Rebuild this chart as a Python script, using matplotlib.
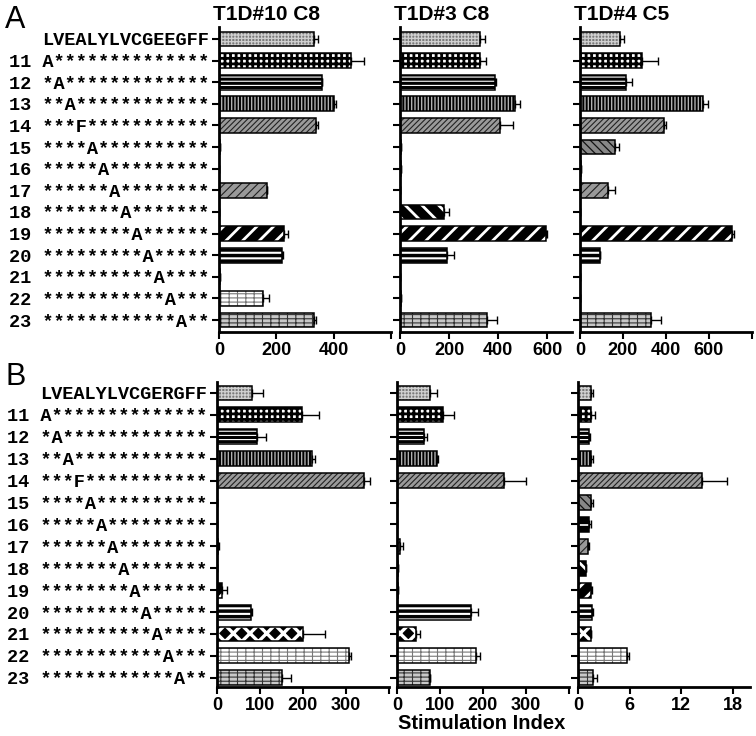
import numpy as np
import matplotlib
matplotlib.use('Agg')
import matplotlib.pyplot as plt

# row labels (sequence variants), same order top to bottom
labels_A = ['LVEALYLVCGEEGFF', '11 A**************', '12 *A*************',
            '13 **A************', '14 ***F***********', '15 ****A**********',
            '16 *****A*********', '17 ******A********', '18 *******A*******',
            '19 ********A******', '20 *********A*****', '21 **********A****',
            '22 ***********A***', '23 ************A**']
labels_B = ['LVEALYLVCGERGFF'] + labels_A[1:]

titles_A = ['T1D#10 C8', 'T1D#3 C8', 'T1D#4 C5']

# stimulation index, mean and error (upper side only)
a1_val = [333, 460, 358, 400, 337, 3, 0, 168, 0, 225, 221, 3, 155, 330]
a1_err = [11, 45, 0, 7, 10, 0, 0, 0, 0, 17, 3, 2, 21, 7]
a2_val = [327, 327, 385, 466, 408, 3, 3, 0, 180, 595, 192, 2, 4, 355]
a2_err = [20, 22, 5, 24, 52, 0, 0, 0, 20, 2, 26, 0, 0, 41]
a3_val = [188, 290, 215, 573, 390, 163, 3, 129, 2, 708, 92, 1, 2, 331]
a3_err = [15, 75, 28, 23, 10, 17, 0, 34, 0, 10, 0, 0, 0, 48]

b1_val = [82, 198, 93, 221, 342, 0, 0, 3, 1, 11, 79, 199, 307, 150]
b1_err = [25, 39, 21, 8, 14, 0, 0, 2, 0, 13, 3, 51, 4, 22]
b2_val = [76, 106, 63, 93, 249, 0, 0, 6, 3, 2, 173, 45, 184, 76]
b2_err = [17, 26, 7, 3, 51, 0, 0, 9, 0, 0, 15, 9, 8, 0]
b3_val = [1.5, 1.5, 1.33, 1.5, 14.4, 1.5, 1.33, 1.14, 0.94, 1.5, 1.6, 1.5, 5.7, 1.7]
b3_err = [0.3, 0.5, 0.07, 0.3, 2.9, 0.2, 0.22, 0.19, 0.0, 0.1, 0.2, 0.0, 0.2, 0.5]

# axis limits and ticks
xlims_A = [600, 700, 800]
xticks_A = [[0, 200, 400, 600], [0, 200, 400, 600], [0, 200, 400, 600, 800]]
xlims_B = [400, 400, 20]
xticks_B = [[0, 100, 200, 300, 400], [0, 100, 200, 300, 400], [0, 6, 12, 18]]

# bar fill per row: (face colour, hatch colour, hatch, hatch linewidth)
styles = [('#7a7a7a', '#d0d0d0', '+++++', 0.9),
          ('white', 'black', '+++', 2.0),
          ('black', 'white', '----', 0.8),
          ('black', '#b0b0b0', '|||||', 1.0),
          ('#9a9a9a', '#222222', '//////', 0.8),
          ('#888888', '#111111', '\\\\\\\\', 0.9),
          ('black', 'white', '+', 1.2),
          ('#999999', '#222222', '////', 0.8),
          ('black', 'white', '\\\\', 2.0),
          ('black', 'white', '//', 2.0),
          ('black', 'white', '---', 1.5),
          ('black', 'white', 'xx', 2.4),
          ('white', '#777777', '----||', 0.8),
          ('#c8c8c8', '#333333', '----||', 0.8)]

plt.rcParams['font.family'] = 'Liberation Sans'

fig = plt.figure(figsize=(7.56, 7.36), dpi=100)

lefts_A = [219, 400, 580]
lefts_B = [217, 397, 578]
W = 756.0
H = 736.0


def draw_panel(ax, vals, errs, xmax, xticks, ylabels, top_pad, bot_pad):
    n = len(vals)
    y = np.arange(n)
    for i in range(n):
        face, hcol, hatch, hlw = styles[i]
        b = ax.barh(y[i], vals[i], height=0.68, color=face, edgecolor=hcol,
                    hatch=hatch, linewidth=0, zorder=2)
        for p in b.patches:
            if hasattr(p, 'set_hatch_linewidth'):
                p.set_hatch_linewidth(hlw)
        ax.barh(y[i], vals[i], height=0.68, fill=False, edgecolor='black',
                linewidth=1.1, zorder=3)
    errs = np.array(errs, dtype=float)
    ax.errorbar(vals, y, xerr=[np.zeros(n), errs], fmt='none', ecolor='black',
                elinewidth=1.0, capsize=3, capthick=1.0, zorder=4)
    ax.set_xlim(0, xmax)
    ax.set_ylim(n - 1 + bot_pad, -top_pad)
    ax.set_yticks(y)
    if ylabels is not None:
        ax.set_yticklabels(ylabels, family='Liberation Mono', fontweight='bold',
                           fontsize=13.4)
    else:
        ax.set_yticklabels([])
    ax.set_xticks(xticks)
    xt = [str(t) for t in xticks]
    if xticks[-1] == xmax and xmax != 700:
        xt[-1] = ''
    ax.set_xticklabels(xt, fontweight='bold', fontsize=13)
    for s in ['top', 'right']:
        ax.spines[s].set_visible(False)
    for s in ['left', 'bottom']:
        ax.spines[s].set_linewidth(2)
    ax.tick_params(axis='both', direction='out', length=5, width=1.5, pad=2)


# panel A
vals_A = [a1_val, a2_val, a3_val]
errs_A = [a1_err, a2_err, a3_err]
for k in range(3):
    ax = fig.add_axes([lefts_A[k] / W, (H - 332) / H, 172 / W, 305 / H])
    draw_panel(ax, vals_A[k], errs_A[k], xlims_A[k], xticks_A[k],
               labels_A if k == 0 else None, 0.555, 0.555)
    ax.text(-6 / 172, 1 + 7 / 305, titles_A[k], transform=ax.transAxes,
            ha='left', va='baseline', fontsize=15, fontweight='bold')

# panel B
vals_B = [b1_val, b2_val, b3_val]
errs_B = [b1_err, b2_err, b3_err]
for k in range(3):
    ax = fig.add_axes([lefts_B[k] / W, (H - 687) / H, 172 / W, 305 / H])
    draw_panel(ax, vals_B[k], errs_B[k], xlims_B[k], xticks_B[k],
               labels_B if k == 0 else None, 0.5, 0.42)

fig.text(5 / W, 1 - 28 / H, 'A', fontsize=22, va='baseline')
fig.text(5 / W, 1 - 385 / H, 'B', fontsize=22, va='baseline')
fig.text(482 / W, 1 - 729 / H, 'Stimulation Index', fontsize=14.5,
         fontweight='bold', ha='center', va='baseline')

fig.savefig('out.png', dpi=100)
